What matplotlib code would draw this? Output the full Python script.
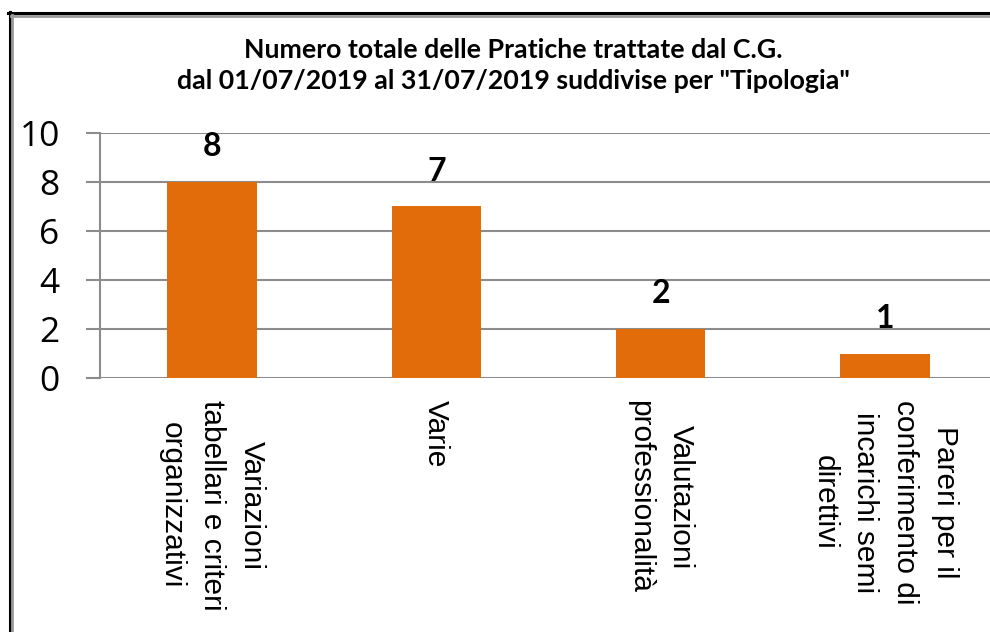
import matplotlib
matplotlib.use("Agg")
import matplotlib.pyplot as plt
from matplotlib.lines import Line2D

categories = [
    "Variazioni\ntabellari e criteri\norganizzativi",
    "Varie",
    "Valutazioni\nprofessionalità",
    "Pareri per il\nconferimento di\nincarichi semi\ndirettivi",
]
values = [8, 7, 2, 1]
yticks = [0, 2, 4, 6, 8, 10]
title = 'Numero totale delle Pratiche trattate dal C.G.\ndal 01/07/2019 al 31/07/2019 suddivise per "Tipologia"'

W, H = 990, 632
fig = plt.figure(figsize=(W / 100, H / 100), dpi=100)
fig.patch.set_facecolor("white")

ax = fig.add_axes([100 / W, (H - 378) / H, 897 / W, 245 / H])
ax.set_xlim(-0.5, 3.5)
ax.set_ylim(0, 10)

grid_c = "#8c8c8c"
ax.set_axisbelow(True)
ax.yaxis.grid(True, color=grid_c, linewidth=1.5)
for s in ["top", "right", "bottom"]:
    ax.spines[s].set_visible(False)
ax.spines["left"].set_color(grid_c)
ax.spines["left"].set_linewidth(1.5)

bars = ax.bar(range(len(values)), values, width=0.40, color="#E36C0A", zorder=2)
ax.bar_label(bars, labels=[str(v) for v in values], padding=15,
             fontsize=23, fontweight="bold", family="Lato", color="black")

ax.set_yticks(yticks)
ax.set_yticklabels([str(t) for t in yticks], fontsize=25.5, family="Open Sans")
ax.tick_params(axis="y", length=10, width=1.5, color=grid_c, pad=19)

ax.set_xticks(range(len(categories)))
ax.set_xticklabels(categories, rotation=270, ha="center", va="top",
                   multialignment="center", fontsize=21.5, family="Liberation Sans",
                   linespacing=1.55)
ax.tick_params(axis="x", length=0, pad=16)

fig.text(513 / W, 1 - 65.5 / H, title, ha="center", va="center",
         fontsize=19.3, fontweight="bold", family="Lato", linespacing=1.32)

# frame border (top and left)
fig.add_artist(Line2D([8 / W, 1], [1 - 13 / H, 1 - 13 / H], transform=fig.transFigure,
                      color="black", linewidth=2.2))
fig.add_artist(Line2D([9.5 / W, 9.5 / W], [0, 1 - 12 / H], transform=fig.transFigure,
                      color="black", linewidth=2.2))
fig.add_artist(Line2D([11 / W, 1], [1 - 15.5 / H, 1 - 15.5 / H], transform=fig.transFigure,
                      color="#9a9a9a", linewidth=2))
fig.add_artist(Line2D([12 / W, 12 / W], [0, 1 - 15 / H], transform=fig.transFigure,
                      color="#9a9a9a", linewidth=2))

fig.savefig("out.png", dpi=100)
